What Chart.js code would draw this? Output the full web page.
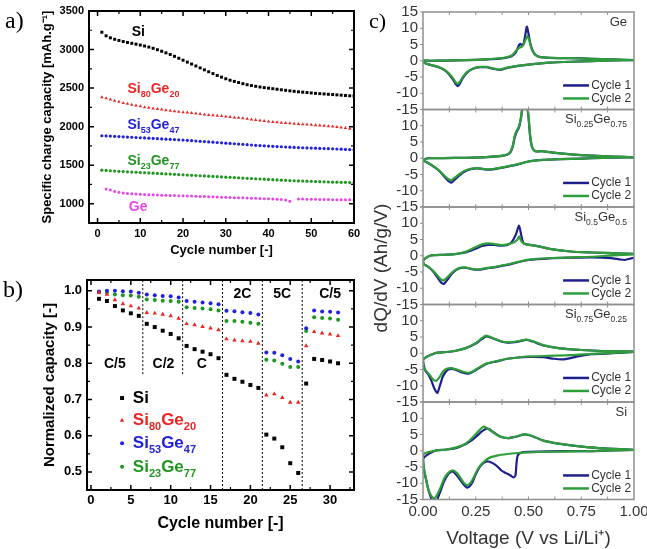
<!DOCTYPE html>
<html>
<head>
<meta charset="utf-8">
<script src="https://cdn.jsdelivr.net/npm/chart.js@4.4.0/dist/chart.umd.min.js"></script>
<style>
html,body{margin:0;padding:0;background:#fff;}
#wrap{position:relative;width:647px;height:549px;overflow:hidden;background:#fff;}
#wrap canvas{position:absolute;left:0;top:0;}
.plab{position:absolute;font-family:"Liberation Serif","Times New Roman",serif;line-height:1;color:#000;}
#ctitle{position:absolute;left:381px;top:268px;transform:translate(-50%,-50%) rotate(-90deg);white-space:nowrap;font-family:"Liberation Sans",Arial,sans-serif;font-size:19px;color:#333;}
</style>
</head>
<body>
<div id="wrap">
<canvas id="ca" width="647" height="549"></canvas>
<canvas id="cb" width="647" height="549"></canvas>
<canvas id="c1" width="647" height="549"></canvas>
<canvas id="c2" width="647" height="549"></canvas>
<canvas id="c3" width="647" height="549"></canvas>
<canvas id="c4" width="647" height="549"></canvas>
<canvas id="c5" width="647" height="549"></canvas>
<div class="plab" style="left:5px;top:8px;font-size:24px">a)</div>
<div class="plab" style="left:3px;top:277px;font-size:24px">b)</div>
<div class="plab" style="left:369px;top:10px;font-size:22px">c)</div>
<div id="ctitle">dQ/dV (Ah/g/V)</div>
</div>
<script>
// ---------------- Panel a data ----------------
const aCycles = [1,2,3,4,5,6,7,8,9,10,11,12,13,14,15,16,17,18,19,20,21,22,23,24,25,26,27,28,29,30,31,32,33,34,35,36,37,38,39,40,41,42,43,44,45,46,47,48,49,50,51,52,53,54,55,56,57,58,59,60];
const aSi = [3225,3178,3152,3133,3118,3104,3092,3081,3070,3058,3046,3032,3016,2998,2978,2957,2936,2912,2887,2862,2837,2812,2787,2762,2737,2712,2688,2664,2642,2621,2602,2587,2572,2557,2544,2533,2523,2514,2506,2499,2492,2485,2478,2471,2464,2458,2452,2447,2442,2437,2432,2428,2424,2420,2416,2412,2408,2404,2400,2396];
const aSi80Ge20 = [2380,2368,2352,2336,2322,2308,2296,2285,2274,2263,2253,2244,2236,2228,2221,2214,2207,2200,2194,2188,2182,2176,2170,2164,2158,2152,2147,2142,2137,2132,2126,2120,2114,2108,2101,2094,2087,2080,2073,2067,2061,2056,2051,2047,2043,2039,2035,2031,2027,2023,2019,2015,2011,2006,2001,1996,1989,1981,1973,1966];
const aSi53Ge47 = [1882,1880,1877,1874,1871,1868,1865,1862,1859,1856,1853,1850,1847,1844,1841,1838,1835,1832,1829,1826,1822,1818,1814,1810,1806,1802,1798,1794,1790,1786,1782,1778,1774,1770,1766,1762,1758,1754,1751,1748,1745,1742,1739,1736,1733,1730,1728,1726,1724,1722,1720,1718,1716,1714,1712,1710,1708,1705,1702,1699];
const aSi23Ge77 = [1435,1432,1428,1424,1420,1417,1414,1411,1408,1405,1402,1399,1396,1393,1390,1387,1384,1381,1378,1375,1372,1369,1366,1363,1360,1357,1354,1351,1348,1345,1342,1339,1336,1333,1330,1327,1324,1321,1318,1315,1312,1309,1306,1303,1300,1298,1296,1294,1292,1290,1288,1286,1284,1282,1280,1279,1278,1277,1275,1273];
const aGe = [null,1190,1178,1160,1148,1140,1134,1129,1125,1122,1119,1117,1115,1113,1111,1110,1108,1106,1104,1102,1100,1099,1097,1095,1093,1091,1089,1087,1085,1083,1081,1079,1078,1076,1074,1072,1070,1068,1066,1064,1061,1058,1054,1049,1032,null,1061,1060,1059,1058,1057,1056,1055,1054,1053,1052,1051,1050,1050,1049];
const aXTicks = [0,10,20,30,40,50,60];
const aXMinor = [5,15,25,35,45,55];
const aYTicks = [1000,1500,2000,2500,3000,3500];
const aYMinor = [1250,1750,2250,2750,3250];

// ---------------- Panel b data ----------------
const bCycles = [1,2,3,4,5,6,7,8,9,10,11,12,13,14,15,16,17,18,19,20,21,22,23,24,25,26,27,28,29,30,31];
const bSi = [0.978,0.972,0.958,0.946,0.938,0.931,0.909,0.900,0.890,0.881,0.869,0.848,0.839,0.832,0.825,0.814,0.768,0.757,0.749,0.740,0.732,0.603,0.592,0.568,0.524,0.497,0.744,0.812,0.809,0.805,0.800];
const bSi80Ge20 = [0.995,0.990,0.975,0.964,0.958,0.952,0.940,0.938,0.935,0.931,0.924,0.909,0.906,0.901,0.897,0.892,0.867,0.864,0.862,0.860,0.855,0.712,0.715,0.705,0.692,0.692,0.848,0.887,0.883,0.880,0.876];
const bSi53Ge47 = [0.998,1.000,1.000,0.999,0.998,0.995,0.990,0.988,0.986,0.985,0.982,0.972,0.970,0.968,0.966,0.963,0.945,0.944,0.941,0.939,0.935,0.830,0.829,0.822,0.812,0.805,0.897,0.946,0.943,0.942,0.940];
const bSi23Ge77 = [0.997,0.995,0.990,0.988,0.987,0.984,0.976,0.975,0.973,0.972,0.970,0.955,0.953,0.951,0.949,0.946,0.917,0.917,0.915,0.912,0.909,0.810,0.808,0.799,0.790,0.790,0.889,0.927,0.925,0.924,0.920];
const bRateBounds = [6.5,11.5,16.5,21.5,26.5];
const bRateBoundLow = [0.77,0.77,0.45,0.45,0.45];
const bRates = ['C/5','C/2','C','2C','5C','C/5'];
const bXTicks = [0,5,10,15,20,25,30];
const bXMinor = [2.5,7.5,12.5,17.5,22.5,27.5,32.5];
const bYTicks = [0.5,0.6,0.7,0.8,0.9,1.0];
const bYMinor = [0.55,0.65,0.75,0.85,0.95];

// ---------------- Panel c data: [voltage, dQ/dV] (lithiation then delithiation) ----------------
const cGeC1 = [[1.00,0.2],[0.90,0.1],[0.80,-0.1],[0.70,-0.3],[0.60,-0.6],[0.50,-1.2],[0.45,-1.6],[0.40,-2.2],[0.365,-2.8],[0.33,-2.4],[0.30,-2.0],[0.27,-2.0],[0.24,-2.4],[0.21,-3.6],[0.19,-5.2],[0.175,-7.0],[0.165,-7.8],[0.155,-7.2],[0.14,-5.6],[0.12,-3.9],[0.10,-2.8],[0.07,-1.9],[0.04,-1.4],[0.02,-1.0],[0.005,-0.6],[0.0,0.0],
  [0.033,0.0],[0.10,0.05],[0.20,0.2],[0.30,0.4],[0.35,0.6],[0.39,0.9],[0.42,1.4],[0.44,2.6],[0.455,4.8],[0.462,5.2],[0.47,4.6],[0.478,5.6],[0.486,8.5],[0.492,10.5],[0.498,9.0],[0.505,6.5],[0.515,3.8],[0.53,2.0],[0.55,1.2],[0.60,0.9],[0.70,0.8],[0.80,0.6],[0.90,0.4],[1.00,0.2]];
const cGeC2 = [[1.00,0.2],[0.90,0.1],[0.80,-0.1],[0.70,-0.3],[0.60,-0.6],[0.50,-1.2],[0.45,-1.6],[0.40,-2.1],[0.365,-2.7],[0.33,-2.3],[0.30,-1.9],[0.27,-1.9],[0.24,-2.3],[0.21,-3.4],[0.19,-4.9],[0.175,-6.4],[0.165,-7.1],[0.155,-6.6],[0.14,-5.2],[0.12,-3.7],[0.10,-2.7],[0.07,-1.8],[0.04,-1.3],[0.02,-1.0],[0.005,-0.6],[0.0,0.0],
  [0.033,0.0],[0.10,0.05],[0.20,0.2],[0.30,0.45],[0.35,0.7],[0.39,1.0],[0.42,1.6],[0.44,3.0],[0.455,4.0],[0.465,4.2],[0.475,4.8],[0.485,6.3],[0.494,7.6],[0.50,7.0],[0.508,5.2],[0.518,3.2],[0.53,2.0],[0.55,1.2],[0.60,0.9],[0.70,0.8],[0.80,0.6],[0.90,0.4],[1.00,0.2]];
const cS25C1 = [[1.00,0.3],[0.90,0.2],[0.80,0.0],[0.70,-0.2],[0.60,-0.4],[0.55,-0.6],[0.50,-1.0],[0.45,-1.9],[0.40,-2.6],[0.35,-3.2],[0.32,-3.5],[0.29,-3.4],[0.26,-3.1],[0.23,-3.3],[0.20,-4.0],[0.17,-5.4],[0.15,-6.6],[0.135,-7.5],[0.12,-7.0],[0.10,-5.6],[0.08,-4.1],[0.06,-3.0],[0.04,-2.1],[0.02,-1.3],[0.0,-0.6],
  [0.025,0.0],[0.10,0.05],[0.20,0.15],[0.30,0.35],[0.38,0.8],[0.41,1.5],[0.425,3.5],[0.435,6.5],[0.445,8.3],[0.455,9.5],[0.465,12.5],[0.475,17],[0.488,18],[0.498,14],[0.508,6.5],[0.518,3.2],[0.535,2.1],[0.56,2.2],[0.60,1.9],[0.65,1.5],[0.70,1.2],[0.80,0.8],[0.90,0.5],[1.00,0.3]];
const cS25C2 = [[1.00,0.3],[0.90,0.2],[0.80,0.0],[0.70,-0.2],[0.60,-0.4],[0.55,-0.6],[0.50,-1.0],[0.45,-1.8],[0.40,-2.5],[0.35,-3.1],[0.32,-3.4],[0.29,-3.3],[0.26,-3.0],[0.23,-3.2],[0.20,-3.8],[0.17,-5.0],[0.15,-6.0],[0.135,-6.7],[0.12,-6.4],[0.10,-5.3],[0.08,-4.0],[0.06,-2.9],[0.04,-2.0],[0.02,-1.3],[0.0,-0.6],
  [0.025,0.0],[0.10,0.05],[0.20,0.15],[0.30,0.35],[0.38,0.8],[0.41,1.6],[0.425,3.8],[0.435,7.0],[0.445,8.6],[0.455,9.8],[0.465,13],[0.475,17],[0.49,18],[0.50,13],[0.51,6],[0.52,3.0],[0.535,2.1],[0.56,2.2],[0.60,1.9],[0.65,1.5],[0.70,1.2],[0.80,0.8],[0.90,0.5],[1.00,0.3]];
const cS50C1 = [[1.00,-0.6],[0.975,-1.0],[0.955,-1.3],[0.93,-1.1],[0.90,-0.8],[0.85,-0.6],[0.80,-0.5],[0.70,-0.6],[0.60,-0.8],[0.50,-1.3],[0.45,-2.0],[0.40,-2.8],[0.35,-3.4],[0.30,-3.9],[0.26,-4.3],[0.23,-4.1],[0.20,-3.7],[0.17,-3.9],[0.14,-5.3],[0.12,-7.0],[0.10,-8.6],[0.085,-8.2],[0.07,-6.8],[0.05,-5.0],[0.03,-3.7],[0.015,-3.0],[0.005,-2.7],[0.0,-1.5],
  [0.033,0.0],[0.10,0.3],[0.15,0.5],[0.20,1.0],[0.25,2.2],[0.28,3.0],[0.31,3.3],[0.34,3.3],[0.37,3.1],[0.40,3.3],[0.42,4.2],[0.44,6.5],[0.455,9.3],[0.465,6.5],[0.475,4.0],[0.49,3.5],[0.52,3.2],[0.55,2.9],[0.60,2.1],[0.70,1.3],[0.80,1.0],[0.90,0.8],[1.00,0.6]];
const cS50C2 = [[1.00,0.4],[0.90,0.1],[0.80,-0.3],[0.70,-0.5],[0.60,-0.7],[0.50,-1.2],[0.45,-1.9],[0.40,-2.7],[0.35,-3.3],[0.30,-3.8],[0.26,-4.2],[0.23,-4.0],[0.20,-3.6],[0.17,-3.8],[0.14,-5.0],[0.12,-6.3],[0.10,-7.5],[0.085,-7.3],[0.07,-6.2],[0.05,-4.8],[0.03,-3.6],[0.015,-3.0],[0.005,-2.6],[0.0,-1.5],
  [0.033,0.0],[0.10,0.3],[0.15,0.5],[0.20,1.2],[0.25,2.7],[0.28,3.5],[0.31,3.8],[0.34,3.6],[0.37,3.3],[0.40,3.5],[0.43,4.1],[0.448,5.0],[0.456,6.0],[0.465,4.6],[0.48,3.7],[0.50,3.4],[0.52,3.2],[0.55,2.9],[0.60,2.1],[0.70,1.3],[0.80,1.0],[0.90,0.8],[1.00,0.6]];
const cS75C1 = [[1.00,0.4],[0.90,0.0],[0.80,-0.3],[0.74,-0.9],[0.70,-1.5],[0.66,-1.9],[0.62,-1.7],[0.57,-1.2],[0.50,-1.1],[0.45,-1.3],[0.40,-1.7],[0.35,-2.5],[0.30,-3.3],[0.26,-4.8],[0.235,-5.8],[0.215,-6.3],[0.19,-6.0],[0.16,-5.2],[0.135,-4.8],[0.115,-5.2],[0.095,-7.0],[0.08,-10.0],[0.068,-12.2],[0.055,-11.0],[0.04,-8.5],[0.025,-6.5],[0.01,-5.2],[0.0,-2.0],
  [0.057,0.0],[0.10,0.3],[0.15,0.7],[0.20,1.5],[0.25,3.0],[0.28,4.4],[0.30,5.2],[0.33,4.6],[0.37,3.6],[0.40,3.3],[0.45,3.6],[0.49,4.1],[0.52,3.6],[0.57,2.4],[0.65,1.5],[0.75,1.0],[0.85,0.7],[1.00,0.5]];
const cS75C2 = [[1.00,0.4],[0.90,0.1],[0.80,-0.2],[0.70,-0.6],[0.60,-0.8],[0.50,-1.0],[0.45,-1.3],[0.40,-1.7],[0.35,-2.4],[0.30,-3.2],[0.26,-4.6],[0.235,-5.6],[0.215,-6.0],[0.19,-5.7],[0.16,-5.0],[0.135,-4.6],[0.115,-4.7],[0.095,-5.6],[0.08,-7.2],[0.065,-8.4],[0.05,-8.2],[0.035,-7.0],[0.02,-5.8],[0.005,-4.6],[0.0,-2.0],
  [0.057,0.0],[0.10,0.3],[0.15,0.7],[0.20,1.5],[0.25,3.1],[0.28,4.7],[0.30,5.4],[0.33,4.7],[0.37,3.7],[0.40,3.4],[0.45,3.7],[0.49,4.2],[0.52,3.7],[0.57,2.5],[0.65,1.5],[0.75,1.0],[0.85,0.7],[1.00,0.5]];
const cSiC1 = [[1.00,0.3],[0.90,0.1],[0.80,-0.1],[0.70,-0.1],[0.60,-0.2],[0.50,-0.3],[0.475,-0.4],[0.45,-1.3],[0.443,-4.0],[0.438,-7.6],[0.428,-8.2],[0.415,-7.6],[0.40,-7.1],[0.385,-6.6],[0.37,-6.0],[0.35,-4.7],[0.33,-3.8],[0.31,-3.3],[0.29,-3.6],[0.27,-4.9],[0.25,-7.2],[0.235,-9.6],[0.22,-11.0],[0.207,-11.3],[0.19,-10.2],[0.17,-8.4],[0.15,-6.8],[0.135,-6.4],[0.12,-7.2],[0.10,-9.4],[0.085,-12.0],[0.07,-14.6],[0.06,-16.0],[0.045,-15.5],[0.03,-13.0],[0.015,-9.0],[0.005,-6.0],[0.0,-2.5],
  [0.057,0.0],[0.10,0.3],[0.15,0.7],[0.20,2.0],[0.23,3.2],[0.26,4.8],[0.28,6.0],[0.30,6.8],[0.315,6.6],[0.33,5.9],[0.365,4.4],[0.405,3.9],[0.444,4.4],[0.483,5.0],[0.523,4.4],[0.57,3.1],[0.65,2.1],[0.775,1.1],[0.87,0.7],[1.00,0.3]];
const cSiC2 = [[1.00,0.3],[0.90,0.1],[0.80,-0.1],[0.70,-0.2],[0.60,-0.3],[0.50,-0.5],[0.45,-0.7],[0.40,-1.0],[0.35,-1.5],[0.31,-2.3],[0.28,-3.9],[0.26,-5.6],[0.24,-8.2],[0.225,-9.9],[0.21,-10.6],[0.195,-10.0],[0.18,-8.6],[0.16,-6.8],[0.14,-6.0],[0.12,-6.8],[0.10,-8.6],[0.085,-11.0],[0.07,-13.2],[0.055,-14.6],[0.04,-14.0],[0.025,-11.8],[0.012,-8.0],[0.004,-5.0],[0.0,-1.2],
  [0.057,0.0],[0.10,0.3],[0.144,0.8],[0.20,2.1],[0.24,4.4],[0.27,6.5],[0.286,7.4],[0.30,7.1],[0.325,6.0],[0.365,4.4],[0.405,3.9],[0.444,4.4],[0.483,5.1],[0.523,4.4],[0.57,3.1],[0.65,2.1],[0.775,1.1],[0.87,0.7],[1.00,0.3]];
const cXTicks = [0,0.25,0.5,0.75,1.0];
const cXMinor = [0.125,0.25,0.375,0.5,0.625,0.75,0.875];
const cYTicks = [-15,-10,-5,0,5,10,15];
const cYTicksLower = [-15,-10,-5,0,5,10];
const cLegendLabels = ['Cycle 1','Cycle 2'];
const cSampleLabels = [
  [{t:'Ge'}],
  [{t:'Si'},{t:'0.25',sub:true},{t:'Ge'},{t:'0.75',sub:true}],
  [{t:'Si'},{t:'0.5',sub:true},{t:'Ge'},{t:'0.5',sub:true}],
  [{t:'Si'},{t:'0.75',sub:true},{t:'Ge'},{t:'0.25',sub:true}],
  [{t:'Si'}]
];

// ---------------- styling ----------------
const FONT = '"Liberation Sans", Arial, Helvetica, sans-serif';
const COL = {si:'#000000', s80:'#ee2424', s53:'#2222dd', s23:'#1f961f', ge:'#e844e8', c1:'#1c1f8c', c2:'#2f9e3a', cText:'#333333', cFrame:'#8f8f8f'};
Chart.defaults.font.family = FONT;
Chart.defaults.color = '#000';

function fitBox(w, h) {
  return function (s) {
    if (w !== null) s.width = w;
    if (h !== null) s.height = h;
    s.paddingLeft = 0; s.paddingRight = 0; s.paddingTop = 0; s.paddingBottom = 0;
  };
}
function setTicks(values) { return function (s) { s.ticks = values.map(v => ({ value: v })); }; }
function pts(xs, ys) { return xs.map((x, i) => ({ x: x, y: ys[i] })); }
function loop(arr) { return arr.map(p => ({ x: p[0], y: p[1] })); }
const plainNum = v => String(v);

function drawRich(ctx, x, y, it) {
  const size = it.size, sub = it.subSize || size * 0.62, w = it.weight || 'normal';
  const fMain = w + ' ' + size + 'px ' + FONT, fSub = w + ' ' + sub + 'px ' + FONT;
  const widths = [];
  let total = 0;
  it.parts.forEach(p => { ctx.font = p.sub ? fSub : fMain; const m = ctx.measureText(p.t).width; widths.push(m); total += m; });
  let cx = it.align === 'right' ? x - total : (it.align === 'center' ? x - total / 2 : x);
  ctx.fillStyle = it.color; ctx.textBaseline = 'middle'; ctx.textAlign = 'left';
  it.parts.forEach((p, i) => { ctx.font = p.sub ? fSub : fMain; ctx.fillText(p.t, cx, p.sub ? y + size * 0.4 : y); cx += widths[i]; });
}

const DECOR = {};
const decorPlugin = {
  id: 'decor',
  afterDatasetsDraw(chart) {
    const cfg = DECOR[chart.canvas.id]; if (!cfg) return;
    const ctx = chart.ctx, ca = chart.chartArea, xs = chart.scales.x, ys = chart.scales.y;
    ctx.save();
    (cfg.ticks || []).forEach(t => {
      ctx.strokeStyle = t.color; ctx.lineWidth = t.width; ctx.beginPath();
      const sg = t.out ? -1 : 1;
      t.values.forEach(v => {
        if (t.axis === 'x') {
          const p = xs.getPixelForValue(v);
          if (t.sides.indexOf('bottom') >= 0) { ctx.moveTo(p, ca.bottom); ctx.lineTo(p, ca.bottom - sg * t.len); }
          if (t.sides.indexOf('top') >= 0) { ctx.moveTo(p, ca.top); ctx.lineTo(p, ca.top + sg * t.len); }
        } else {
          const p = ys.getPixelForValue(v);
          if (t.sides.indexOf('left') >= 0) { ctx.moveTo(ca.left, p); ctx.lineTo(ca.left + sg * t.len, p); }
          if (t.sides.indexOf('right') >= 0) { ctx.moveTo(ca.right, p); ctx.lineTo(ca.right - sg * t.len, p); }
        }
      });
      ctx.stroke();
    });
    if (cfg.frame) {
      ctx.strokeStyle = cfg.frame.color; ctx.lineWidth = cfg.frame.width;
      ctx.strokeRect(ca.left, ca.top, ca.right - ca.left, ca.bottom - ca.top);
    }
    (cfg.marks || []).forEach(m => {
      ctx.fillStyle = m.color; ctx.strokeStyle = m.color;
      Chart.helpers.drawPoint(ctx, { pointStyle: m.style, radius: m.r, rotation: 0, borderWidth: 0 }, xs.getPixelForValue(m.x), ys.getPixelForValue(m.y));
    });
    (cfg.lines || []).forEach(l => {
      ctx.strokeStyle = l.color; ctx.lineWidth = l.width; ctx.beginPath();
      const py = ys.getPixelForValue(l.y);
      ctx.moveTo(xs.getPixelForValue(l.x1), py); ctx.lineTo(xs.getPixelForValue(l.x2), py); ctx.stroke();
    });
    (cfg.texts || []).forEach(t => drawRich(ctx, xs.getPixelForValue(t.x), ys.getPixelForValue(t.y), t));
    ctx.restore();
  }
};

const baseOpts = { responsive: false, devicePixelRatio: 1, animation: false, events: [] };
function noGrid() { return { display: false, drawTicks: false }; }

// ---------------- Panel a ----------------
function aSet(ys, style, r, color) {
  return { data: pts(aCycles, ys), pointStyle: style, pointRadius: r, pointBorderWidth: 0, pointBackgroundColor: color, borderColor: color, showLine: false };
}
DECOR.ca = {
  frame: { color: '#000', width: 2 },
  ticks: [
    { axis: 'x', values: aXTicks, len: 5, sides: ['bottom', 'top'], color: '#000', width: 1.5 },
    { axis: 'x', values: aXMinor, len: 3, sides: ['bottom', 'top'], color: '#000', width: 1.2 },
    { axis: 'y', values: aYTicks, len: 5, sides: ['left', 'right'], color: '#000', width: 1.5 },
    { axis: 'y', values: aYMinor, len: 3, sides: ['left', 'right'], color: '#000', width: 1.2 }
  ],
  texts: [
    { x: 8.0, y: 3228, parts: [{ t: 'Si' }], size: 14, weight: 'bold', color: COL.si },
    { x: 7.0, y: 2488, parts: [{ t: 'Si' }, { t: '80', sub: true }, { t: 'Ge' }, { t: '20', sub: true }], size: 14, subSize: 9, weight: 'bold', color: COL.s80 },
    { x: 7.0, y: 2021, parts: [{ t: 'Si' }, { t: '53', sub: true }, { t: 'Ge' }, { t: '47', sub: true }], size: 14, subSize: 9, weight: 'bold', color: COL.s53 },
    { x: 7.0, y: 1558, parts: [{ t: 'Si' }, { t: '23', sub: true }, { t: 'Ge' }, { t: '77', sub: true }], size: 14, subSize: 9, weight: 'bold', color: COL.s23 },
    { x: 7.3, y: 962, parts: [{ t: 'Ge' }], size: 14, weight: 'bold', color: COL.ge }
  ]
};
new Chart(document.getElementById('ca'), {
  type: 'scatter',
  data: { datasets: [
    aSet(aSi, 'rect', 2.1, COL.si),
    aSet(aSi80Ge20, 'triangle', 2.0, COL.s80),
    aSet(aSi53Ge47, 'circle', 1.6, COL.s53),
    aSet(aSi23Ge77, 'circle', 1.6, COL.s23),
    aSet(aGe, 'circle', 1.5, COL.ge)
  ] },
  options: Object.assign({}, baseOpts, {
    layout: { padding: { left: 38, top: 11, right: 293, bottom: 284 } },
    scales: {
      x: { type: 'linear', min: -2, max: 60, grid: noGrid(), border: { display: false },
        afterBuildTicks: setTicks(aXTicks), afterFit: fitBox(null, 42),
        ticks: { font: { size: 11, weight: 'bold' }, padding: 4, maxRotation: 0, minRotation: 0, autoSkip: false, color: '#000', callback: plainNum },
        title: { display: true, text: 'Cycle number [-]', font: { size: 13, weight: 'bold' }, padding: { top: 0, bottom: 7 }, color: '#000' } },
      y: { type: 'linear', min: 750, max: 3500, grid: noGrid(), border: { display: false },
        afterBuildTicks: setTicks(aYTicks), afterFit: fitBox(51, null),
        ticks: { font: { size: 11, weight: 'bold' }, padding: 5, color: '#000', autoSkip: false, callback: plainNum },
        title: { display: true, text: 'Specific charge capacity [mAh.g\u207B\u00B9]', font: { size: 13, weight: 'bold' }, padding: { top: 2, bottom: 0 }, color: '#000' } }
    },
    plugins: { legend: { display: false }, tooltip: { enabled: false } }
  }),
  plugins: [decorPlugin]
});

// ---------------- Panel b ----------------
const bYMax = 1.03, bYMin = 0.45;
function bSet(ys, style, r, color) {
  return { data: pts(bCycles, ys), pointStyle: style, pointRadius: r, pointBorderWidth: 0, pointBackgroundColor: color, borderColor: color, showLine: false };
}
const bLineSets = bRateBounds.map((x, i) => ({
  data: [{ x: x, y: bRateBoundLow[i] }, { x: x, y: bYMax }], showLine: true, pointRadius: 0,
  borderColor: '#000', borderWidth: 1, borderDash: [2, 2]
}));
const bRatePos = [[3.0, 0.797], [9.1, 0.797], [13.9, 0.797], [19.0, 0.99], [24.0, 0.99], [30.0, 0.99]];
DECOR.cb = {
  frame: { color: '#000', width: 2 },
  ticks: [
    { axis: 'x', values: bXTicks, len: 5, sides: ['bottom', 'top'], color: '#000', width: 1.5 },
    { axis: 'x', values: bXMinor, len: 3, sides: ['bottom', 'top'], color: '#000', width: 1.2 },
    { axis: 'y', values: bYTicks, len: 5, sides: ['left', 'right'], color: '#000', width: 1.5 },
    { axis: 'y', values: bYMinor, len: 3, sides: ['left', 'right'], color: '#000', width: 1.2 }
  ],
  texts: bRates.map((t, i) => ({ x: bRatePos[i][0], y: bRatePos[i][1], parts: [{ t: t }], size: 14, weight: 'bold', color: '#000', align: 'center' })).concat([
    { x: 5.25, y: 0.704, parts: [{ t: 'Si' }], size: 17, weight: 'bold', color: COL.si },
    { x: 5.25, y: 0.642, parts: [{ t: 'Si' }, { t: '80', sub: true }, { t: 'Ge' }, { t: '20', sub: true }], size: 17, subSize: 11, weight: 'bold', color: COL.s80 },
    { x: 5.25, y: 0.579, parts: [{ t: 'Si' }, { t: '53', sub: true }, { t: 'Ge' }, { t: '47', sub: true }], size: 17, subSize: 11, weight: 'bold', color: COL.s53 },
    { x: 5.25, y: 0.514, parts: [{ t: 'Si' }, { t: '23', sub: true }, { t: 'Ge' }, { t: '77', sub: true }], size: 17, subSize: 11, weight: 'bold', color: COL.s23 }
  ]),
  marks: [
    { x: 3.9, y: 0.704, style: 'rect', r: 2.8, color: COL.si },
    { x: 3.9, y: 0.642, style: 'triangle', r: 2.6, color: COL.s80 },
    { x: 3.9, y: 0.579, style: 'circle', r: 2.0, color: COL.s53 },
    { x: 3.9, y: 0.514, style: 'circle', r: 2.0, color: COL.s23 }
  ]
};
new Chart(document.getElementById('cb'), {
  type: 'scatter',
  data: { datasets: [
    bSet(bSi, 'rect', 2.8, COL.si),
    bSet(bSi80Ge20, 'triangle', 2.6, COL.s80),
    bSet(bSi53Ge47, 'circle', 2.0, COL.s53),
    bSet(bSi23Ge77, 'circle', 2.0, COL.s23)
  ].concat(bLineSets) },
  options: Object.assign({}, baseOpts, {
    layout: { padding: { left: 38, top: 280, right: 293, bottom: 14 } },
    scales: {
      x: { type: 'linear', min: -0.5, max: 33, grid: noGrid(), border: { display: false },
        afterBuildTicks: setTicks(bXTicks), afterFit: fitBox(null, 45),
        ticks: { font: { size: 13, weight: 'bold' }, padding: 3, maxRotation: 0, minRotation: 0, autoSkip: false, color: '#000', callback: plainNum },
        title: { display: true, text: 'Cycle number [-]', font: { size: 16, weight: 'bold' }, padding: { top: 0, bottom: 2 }, color: '#000' } },
      y: { type: 'linear', min: bYMin, max: bYMax, grid: noGrid(), border: { display: false },
        afterBuildTicks: setTicks(bYTicks), afterFit: fitBox(49, null),
        ticks: { font: { size: 13, weight: 'bold' }, padding: 5, color: '#000', autoSkip: false, callback: v => Number(v).toFixed(1) },
        title: { display: true, text: 'Normalized capacity [-]', font: { size: 15, weight: 'bold' }, padding: { top: 3, bottom: 0 }, color: '#000' } }
    },
    plugins: { legend: { display: false }, tooltip: { enabled: false } }
  }),
  plugins: [decorPlugin]
});

// ---------------- Panel c ----------------
const cBounds = [12, 109.5, 207, 304.5, 402, 499.5];
const cSeries = [[cGeC1, cGeC2], [cS25C1, cS25C2], [cS50C1, cS50C2], [cS75C1, cS75C2], [cSiC1, cSiC2]];
for (let i = 0; i < 5; i++) {
  const id = 'c' + (i + 1);
  const last = i === 4;
  DECOR[id] = {
    frame: { color: COL.cFrame, width: 1.5 },
    ticks: [
      { axis: 'x', values: cXMinor, len: 3, sides: ['bottom', 'top'], color: COL.cFrame, width: 1 },
      { axis: 'y', values: cYTicks, len: 3, sides: ['left'], out: true, color: COL.cFrame, width: 1 }
    ],
    lines: [
      { x1: 0.664, x2: 0.787, y: -7.6, color: COL.c1, width: 2.5 },
      { x1: 0.664, x2: 0.787, y: -11.6, color: COL.c2, width: 2.5 }
    ],
    texts: [
      { x: 0.967, y: 11.8, parts: cSampleLabels[i], size: 13, subSize: 8.5, color: COL.cText, align: 'right' },
      { x: 0.797, y: -7.6, parts: [{ t: cLegendLabels[0] }], size: 12, color: COL.cText },
      { x: 0.797, y: -11.6, parts: [{ t: cLegendLabels[1] }], size: 12, color: COL.cText }
    ]
  };
  new Chart(document.getElementById(id), {
    type: 'scatter',
    data: { datasets: [
      { data: loop(cSeries[i][1]), showLine: true, pointRadius: 0, borderColor: COL.c2, borderWidth: 2.2, tension: 0.25 },
      { data: loop(cSeries[i][0]), showLine: true, pointRadius: 0, borderColor: COL.c1, borderWidth: 2.2, tension: 0.25 }
    ] },
    options: Object.assign({}, baseOpts, {
      layout: { padding: { left: 370, top: cBounds[i], right: 13, bottom: last ? 0 : 549 - cBounds[i + 1] } },
      scales: {
        x: { type: 'linear', min: 0, max: 1, display: last, grid: noGrid(), border: { display: false },
          afterBuildTicks: setTicks(cXTicks), afterFit: fitBox(null, last ? 549 - cBounds[5] : 0),
          ticks: { font: { size: 15 }, padding: 3, maxRotation: 0, minRotation: 0, autoSkip: false, color: COL.cText, callback: v => Number(v).toFixed(2) },
          title: { display: last, text: 'Voltage (V vs Li/Li\u207A)', font: { size: 19, lineHeight: 1 }, padding: { top: 0, bottom: 1 }, color: COL.cText } },
        y: { type: 'linear', min: -15, max: 15, grid: noGrid(), border: { display: false },
          afterBuildTicks: setTicks(i === 0 ? cYTicks : cYTicksLower), afterFit: fitBox(53, null),
          ticks: { font: { size: 15 }, padding: 5, color: COL.cText, autoSkip: false, callback: plainNum } }
      },
      plugins: { legend: { display: false }, tooltip: { enabled: false } }
    }),
    plugins: [decorPlugin]
  });
}
</script>
</body>
</html>
